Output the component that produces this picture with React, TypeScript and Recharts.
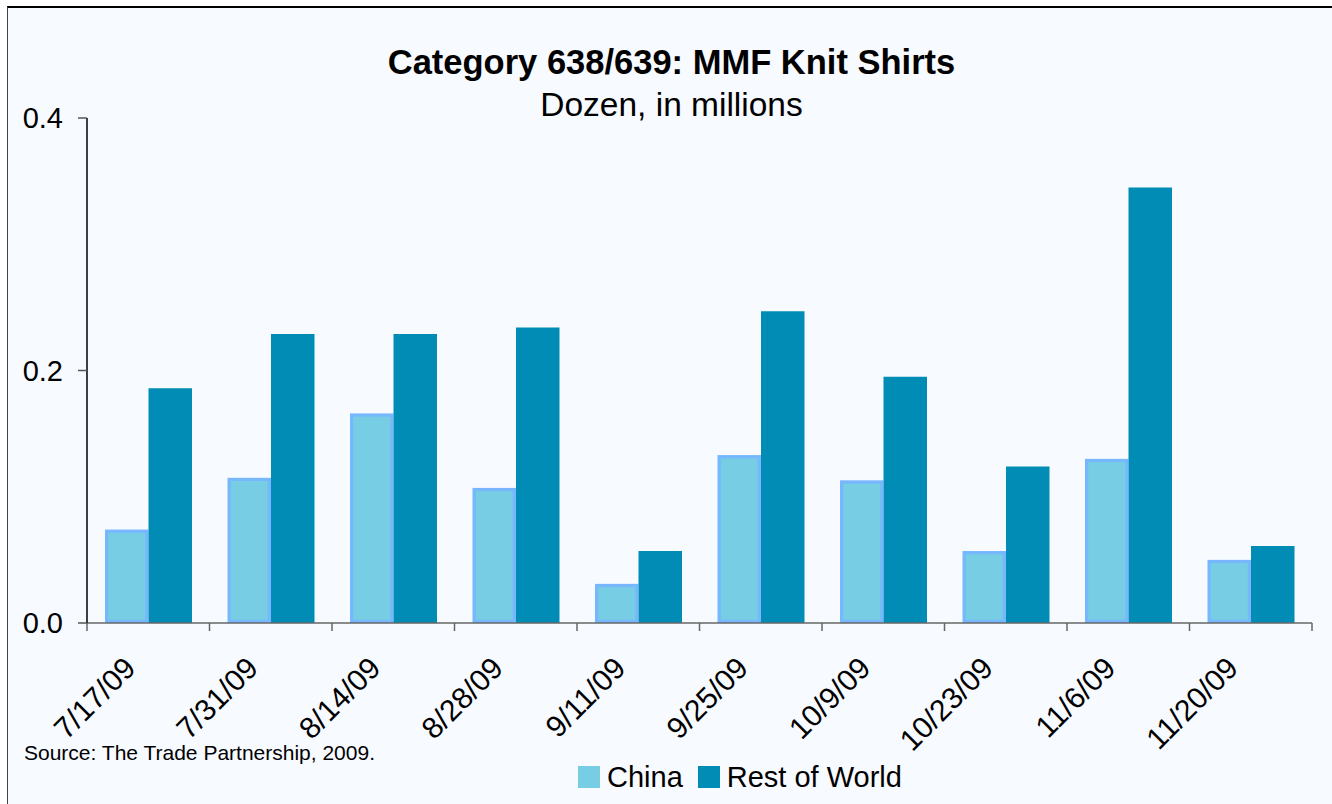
import { BarChart, Bar, XAxis, YAxis, Legend } from "recharts";

const weeks = ["7/17/09", "7/31/09", "8/14/09", "8/28/09", "9/11/09", "9/25/09", "10/9/09", "10/23/09", "11/6/09", "11/20/09"];
const china = [0.074, 0.115, 0.166, 0.107, 0.031, 0.133, 0.113, 0.057, 0.13, 0.05];
const restOfWorld = [0.186, 0.229, 0.229, 0.234, 0.057, 0.247, 0.195, 0.124, 0.345, 0.061];
const yTicks = [0, 0.2, 0.4];
// category boundaries, where the x-axis tick marks sit
const boundaries = [0, 1, 2, 3, 4, 5, 6, 7, 8, 9, 10];

const data = weeks.map((week, i) => ({ week, slot: i + 0.5, china: china[i], row: restOfWorld[i] }));

const FONT = "'Liberation Sans', Arial, sans-serif";
const CHINA_EDGE = "#76B7FE";
const CHINA_FILL = "#77CDE3";
const ROW_FILL = "#008CB5";

// china bars have a periwinkle rim around a lighter cyan body
function ChinaBar(props: any) {
  const { x, y, width, height } = props;
  if (!height || height <= 0) return null;
  const inset = 3.2;
  return (
    <g>
      <rect x={x} y={y} width={width} height={height} fill={CHINA_EDGE} />
      <rect
        x={x + inset}
        y={y + inset}
        width={Math.max(0, width - inset * 2)}
        height={Math.max(0, height - inset * 2)}
        fill={CHINA_FILL}
      />
    </g>
  );
}

function WeekTick(props: any) {
  const { x, y, payload } = props;
  return (
    <g transform={`translate(${x - 11},${y + 36})`}>
      <text transform="rotate(-45)" textAnchor="end" fontSize={30} fontFamily={FONT} fill="#000">
        {payload.value}
      </text>
    </g>
  );
}

// boundary axis only needs its tick marks
const NoLabel = () => <g />;

function LegendContent() {
  const item = (label: string, color: string, gap: number) => (
    <div style={{ display: "flex", alignItems: "center", marginRight: gap }}>
      <span style={{ width: 22, height: 22, background: color, marginRight: 7 }} />
      <span style={{ fontSize: 29, fontFamily: FONT, color: "#000", lineHeight: "29px" }}>{label}</span>
    </div>
  );
  return (
    <div style={{ display: "flex", alignItems: "center", height: 40, marginLeft: 571 }}>
      {item("China", CHINA_FILL, 15)}
      {item("Rest of World", ROW_FILL, 0)}
    </div>
  );
}

export default function App() {
  return (
    <div style={{ position: "absolute", left: 0, top: 0, width: 1332, height: 804, background: "#fff" }}>
      <div
        style={{
          position: "absolute",
          left: 7,
          top: 6,
          right: 0,
          bottom: 0,
          background: "#F7FAFF",
          borderTop: "2px solid #000",
          borderLeft: "1.5px solid #444",
        }}
      />
      <div style={{ position: "absolute", left: 0, top: 0 }}>
        <BarChart
          width={1332}
          height={804}
          data={data}
          margin={{ top: 118, right: 20, bottom: 7, left: 7 }}
          barGap={0}
          barSize={43.5}
        >
          <XAxis
            xAxisId="a"
            dataKey="slot"
            type="number"
            domain={[0, 10]}
            allowDataOverflow
            ticks={boundaries}
            interval={0}
            height={1}
            tick={<NoLabel />}
            tickSize={8}
            axisLine={{ stroke: "#666", strokeWidth: 1.5 }}
            tickLine={{ stroke: "#666", strokeWidth: 1.5 }}
          />
          <XAxis
            xAxisId="z"
            dataKey="week"
            height={133}
            interval={0}
            tick={<WeekTick />}
            tickSize={8}
            axisLine={false}
            tickLine={false}
          />
          <YAxis
            width={80}
            domain={[0, 0.4]}
            ticks={yTicks}
            interval={0}
            tickFormatter={(v: number) => v.toFixed(1)}
            tickSize={9}
            tickMargin={15}
            tick={{ fontSize: 29, fontFamily: FONT, fill: "#000" }}
            axisLine={{ stroke: "#000", strokeWidth: 1.5 }}
            tickLine={{ stroke: "#555", strokeWidth: 1.5 }}
          />
          <Legend verticalAlign="bottom" height={40} wrapperStyle={{ height: 40 }} content={<LegendContent />} />
          <Bar xAxisId="z" dataKey="china" name="China" fill={CHINA_FILL} shape={<ChinaBar />} isAnimationActive={false} />
          <Bar xAxisId="z" dataKey="row" name="Rest of World" fill={ROW_FILL} isAnimationActive={false} />
        </BarChart>
      </div>
      <svg width={1332} height={804} style={{ position: "absolute", left: 0, top: 0, pointerEvents: "none" }}>
        <text x={671.5} y={73.5} textAnchor="middle" fontSize={34.5} fontWeight="bold" fontFamily={FONT} fill="#000">
          Category 638/639: MMF Knit Shirts
        </text>
        <text x={671.5} y={116} textAnchor="middle" fontSize={33.5} fontFamily={FONT} fill="#000">
          Dozen, in millions
        </text>
        <text x={24} y={760} fontSize={21} fontFamily={FONT} fill="#000">
          Source: The Trade Partnership, 2009.
        </text>
      </svg>
    </div>
  );
}
